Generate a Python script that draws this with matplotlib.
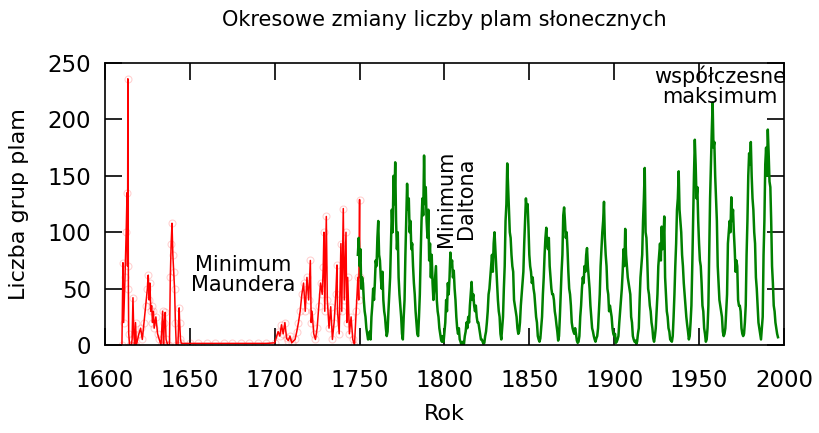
import numpy as np
import matplotlib
matplotlib.use("Agg")
import matplotlib.pyplot as plt

# ---- data ----
red_years = [1610.0, 1610.6, 1611.0, 1611.8, 1612.5, 1613.0, 1613.3, 1613.5, 1613.8, 1614.0,
             1614.5, 1615.5, 1616.0, 1616.5, 1617.0, 1617.5, 1618.0, 1618.5, 1620.0, 1621.0,
             1622.0, 1623.0, 1624.0, 1625.0, 1625.5, 1626.0, 1626.5, 1627.0, 1627.5, 1628.0,
             1628.5, 1629.0, 1630.0, 1631.0, 1632.0, 1633.0, 1634.0, 1634.5, 1635.0, 1635.5,
             1636.0, 1637.0, 1638.0, 1638.5, 1639.0, 1639.5, 1640.0, 1640.5, 1641.0, 1641.5,
             1642.0, 1643.0, 1643.7, 1644.0, 1644.5, 1645.0, 1650.0, 1655.0, 1660.0, 1665.0,
             1670.0, 1675.0, 1680.0, 1685.0, 1690.0, 1695.0, 1700.0, 1702.0, 1703.0, 1704.0,
             1705.0, 1706.0, 1707.0, 1708.0, 1709.0, 1710.0, 1712.0, 1713.0, 1714.0, 1715.0,
             1716.0, 1717.0, 1718.0, 1719.0, 1720.0, 1721.0, 1721.5, 1722.0, 1723.0, 1724.0,
             1725.0, 1726.0, 1727.0, 1728.0, 1728.6, 1729.0, 1729.5, 1730.4, 1731.0, 1732.0,
             1733.0, 1734.0, 1735.0, 1736.0, 1736.7, 1737.0, 1738.0, 1739.0, 1739.5, 1740.4,
             1741.0, 1742.0, 1742.5, 1743.0, 1744.0, 1745.0, 1746.0, 1747.0, 1748.0, 1749.0,
             1749.5, 1750.0, 1750.2]
red_values = [0, 73, 20, 60, 100, 135, 70, 236, 50, 10,
              0, 0, 5, 42, 10, 0, 20, 0, 10, 15,
              5, 20, 35, 50, 62, 40, 55, 30, 35, 20,
              30, 15, 25, 10, 5, 0, 30, 0, 20, 29,
              5, 0, 0, 60, 90, 108, 80, 65, 50, 20,
              0, 0, 33, 20, 5, 1.5, 1.5, 1.5, 1.5, 1.5,
              1.5, 1.5, 1.5, 1.5, 1.5, 1.5, 2, 12, 8, 18,
              10, 20, 6, 4, 8, 2, 5, 12, 20, 30,
              45, 55, 30, 60, 40, 75, 20, 30, 10, 5,
              15, 35, 55, 45, 69, 100, 30, 114, 40, 15,
              34, 5, 20, 45, 71, 30, 10, 90, 30, 121,
              40, 100, 20, 60, 10, 25, 5, 0, 30, 60,
              40, 129, 60]

green_start = 1749.0
green_step = 0.5
green_values = [
    80, 95, 70, 85, 50, 60, 55, 40, 30, 25, 15, 10, 5, 8, 12, 5, 25, 35, 50, 40,
    55, 75, 70, 95, 110, 80, 75, 60, 50, 65, 40, 30, 25, 15, 8, 12, 30, 45, 60, 90,
    120, 100, 150, 125, 162, 110, 85, 100, 60, 45, 35, 25, 10, 5, 25, 40, 80, 110, 143, 120,
    130, 100, 110, 85, 90, 70, 55, 45, 30, 20, 10, 8, 25, 45, 80, 110, 130, 115, 168, 125,
    140, 110, 95, 120, 75, 90, 60, 80, 55, 40, 50, 60, 70, 40, 30, 25, 15, 10, 5, 3,
    8, 3, 12, 20, 40, 30, 55, 45, 60, 82, 70, 75, 60, 66, 50, 40, 25, 15, 10, 15,
    5, 3, 0, 2, 3, 1, 8, 12, 20, 15, 25, 20, 35, 45, 56, 40, 45, 35, 30, 35,
    25, 20, 20, 15, 10, 5, 5, 3, 1, 2, 8, 12, 20, 30, 45, 50, 60, 70, 80, 65,
    90, 100, 85, 70, 55, 40, 30, 25, 10, 5, 15, 25, 50, 70, 110, 125, 161, 140, 120, 100,
    95, 80, 70, 65, 40, 35, 30, 25, 15, 10, 12, 20, 35, 45, 55, 65, 90, 110, 130, 120,
    125, 105, 80, 70, 65, 55, 60, 50, 45, 35, 25, 20, 8, 5, 3, 6, 15, 25, 45, 60,
    80, 95, 104, 90, 85, 95, 70, 60, 50, 45, 45, 40, 30, 25, 18, 12, 4, 8, 25, 45,
    65, 80, 115, 122, 110, 95, 100, 85, 65, 50, 45, 35, 20, 15, 12, 10, 15, 10, 4, 2,
    3, 8, 25, 35, 50, 60, 55, 70, 65, 80, 86, 70, 60, 50, 35, 25, 15, 12, 8, 5,
    3, 6, 8, 15, 30, 45, 70, 85, 100, 110, 127, 95, 80, 70, 50, 45, 30, 35, 30, 25,
    15, 10, 8, 10, 2, 3, 5, 8, 20, 30, 40, 50, 65, 85, 70, 103, 80, 70, 60, 55,
    50, 45, 25, 20, 8, 5, 3, 4, 1, 3, 10, 15, 40, 60, 70, 80, 110, 130, 157, 100,
    95, 75, 50, 45, 35, 30, 20, 15, 6, 3, 8, 15, 30, 45, 70, 80, 90, 75, 105, 85,
    90, 114, 60, 45, 30, 25, 15, 12, 5, 4, 3, 8, 25, 45, 70, 90, 120, 130, 154, 120,
    110, 100, 80, 70, 55, 45, 35, 25, 18, 12, 5, 8, 20, 35, 70, 110, 150, 182, 160, 130,
    140, 110, 90, 75, 70, 55, 35, 30, 15, 10, 3, 5, 15, 35, 80, 130, 160, 190, 215, 175,
    180, 150, 130, 110, 70, 55, 40, 35, 30, 25, 12, 8, 10, 15, 30, 45, 90, 100, 110, 100,
    131, 110, 120, 100, 85, 65, 75, 70, 40, 35, 35, 30, 15, 10, 8, 10, 20, 35, 80, 110,
    150, 170, 160, 180, 150, 130, 120, 100, 90, 60, 50, 35, 20, 15, 10, 5, 15, 25, 80, 110,
    160, 175, 150, 191, 170, 145, 140, 110, 70, 55, 35, 30, 20, 15, 10, 7]
green_years = green_start + green_step * np.arange(len(green_values))

x_ticks = [1600, 1650, 1700, 1750, 1800, 1850, 1900, 1950, 2000]
y_ticks = [0, 50, 100, 150, 200, 250]

# ---- figure ----
fig = plt.figure(figsize=(8.2, 4.33), dpi=100)
ax = fig.add_axes([0.128, 0.203, 0.828, 0.6515])

ax.plot(red_years, red_values, color="#ff0000", linewidth=1.1,
        marker="o", markersize=5, markerfacecolor="none",
        markeredgecolor=(1, 0, 0, 0.18), markeredgewidth=0.8)
ax.plot(green_years, green_values, color="#008000", linewidth=1.8)

ax.set_xlim(1600, 2000)
ax.set_ylim(0, 250)
ax.set_xticks(x_ticks)
ax.set_yticks(y_ticks)
ax.tick_params(direction="in", length=12, width=1.2, top=True, right=True,
               labelsize=16.5)
ax.tick_params(axis="x", pad=17)
ax.tick_params(axis="y", pad=10)
for s in ax.spines.values():
    s.set_linewidth(1.2)

ax.set_title("Okresowe zmiany liczby plam słonecznych", fontsize=15, pad=27)
ax.set_xlabel("Rok", fontsize=16, labelpad=9)
ax.set_ylabel("Liczba grup plam", fontsize=16, labelpad=13)

ax.text(1681.3, 62, "Minimum\nMaundera", fontsize=15, ha="center", va="center",
        linespacing=1.0)
ax.text(1806.8, 130, "Minimum\nDaltona", fontsize=15, ha="center", va="center",
        rotation=90, linespacing=1.0)
ax.text(1962.3, 229.5, "współczesne\nmaksimum", fontsize=15, ha="center", va="center",
        linespacing=1.0)

fig.savefig("out.png", dpi=100, facecolor="white")
